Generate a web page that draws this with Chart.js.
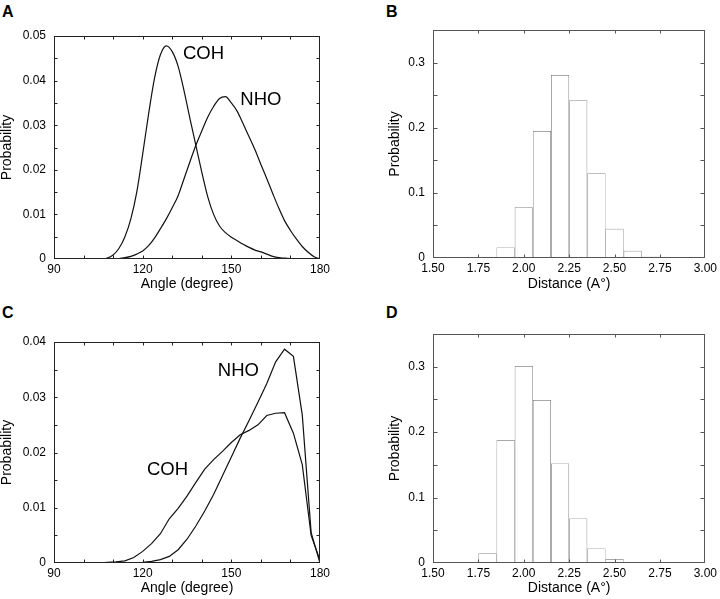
<!DOCTYPE html>
<html><head><meta charset="utf-8">
<script src="https://cdn.jsdelivr.net/npm/chart.js@4/dist/chart.umd.min.js"></script>
<style>
html,body{margin:0;padding:0;background:#fff;width:720px;height:599px;overflow:hidden;}
.p{position:absolute;}
.lt{position:absolute;font:bold 16px 'Liberation Sans',Arial,sans-serif;line-height:16px;color:#000;}
</style></head><body>
<div class="lt" style="left:2px;top:4px">A</div>
<div class="lt" style="left:386px;top:4px">B</div>
<div class="lt" style="left:2px;top:305px">C</div>
<div class="lt" style="left:386px;top:305px">D</div>
<div class="p" style="left:0;top:0;"><canvas id="cA" width="360" height="300"></canvas></div>
<div class="p" style="left:360px;top:0;"><canvas id="cB" width="360" height="300"></canvas></div>
<div class="p" style="left:0;top:300px;"><canvas id="cC" width="360" height="299"></canvas></div>
<div class="p" style="left:360px;top:300px;"><canvas id="cD" width="360" height="299"></canvas></div>
<script>
// ---------- Panel A data (angle distribution) ----------
const anglesA = [90,100,104,106,108,110,112,114,116,118,120,122,124,126,128,130,132,134,136,138,140,142,144,146,148,150,152,154,156,158,160,162,164,166,168,170,172,174,176,178,180];
const cohA = [0,0,0,0,0.0002,0.0009,0.0024,0.0050,0.0090,0.0150,0.0235,0.0325,0.0405,0.0458,0.0478,0.0465,0.0432,0.0377,0.0315,0.0255,0.0195,0.0140,0.0100,0.0074,0.0059,0.0049,0.0041,0.0033,0.0026,0.0020,0.0016,0.0011,0.0006,0.0003,0.0002,0.0001,0,0,0,0,0];
const nhoA = [0,0,0,0,0,0,0.0001,0.0003,0.0006,0.0011,0.0018,0.0030,0.0047,0.0068,0.0090,0.0115,0.0142,0.0180,0.0218,0.0255,0.0287,0.0318,0.0342,0.0360,0.0364,0.0350,0.0331,0.0303,0.0274,0.0245,0.0212,0.0180,0.0147,0.0115,0.0086,0.0064,0.0045,0.0028,0.0015,0.0005,0];

// ---------- Panel C data ----------
const anglesC = [90,93,96,99,102,105,108,111,114,117,120,123,126,129,132,135,138,141,144,147,150,153,156,159,162,165,168,171,174,177,180];
const cohC = [0,0,0,0,0,0,0.0001,0.0002,0.0004,0.0010,0.0021,0.0035,0.0053,0.0080,0.0099,0.0121,0.0146,0.0170,0.0187,0.0202,0.0218,0.0232,0.0240,0.0250,0.0267,0.0271,0.0272,0.0235,0.0178,0.0050,0.0005];
const nhoC = [0,0,0,0,0,0,0,0,0,0,0.0001,0.0003,0.0006,0.0012,0.0024,0.0043,0.0067,0.0094,0.0124,0.0158,0.0192,0.0226,0.0258,0.0291,0.0325,0.0364,0.0387,0.0374,0.0268,0.0055,0];

// ---------- Panel B / D data (distance histograms, bin centres) ----------
const binsB = [1.9,2.0,2.1,2.2,2.3,2.4,2.5,2.6,2.7];
const probB = [0.016,0.078,0.195,0.281,0.242,0.130,0.045,0.011,0.002];
const binsD = [1.8,1.9,2.0,2.1,2.2,2.3,2.4,2.5,2.6];
const probD = [0.015,0.188,0.301,0.249,0.152,0.068,0.022,0.006,0.0015];

// ---------- Tick values / labels ----------
const angleTicks = [90,120,150,180];
const angleTickLabels = ['90','120','150','180'];
const angleMarks = [100,110,120,130,140,150,160,170];
const probTicksA = [0,0.01,0.02,0.03,0.04,0.05];
const probTickLabelsA = ['0','0.01','0.02','0.03','0.04','0.05'];
const probMarksA = [0.005,0.01,0.015,0.02,0.025,0.03,0.035,0.04,0.045];
const probTicksC = [0,0.01,0.02,0.03,0.04];
const probTickLabelsC = ['0','0.01','0.02','0.03','0.04'];
const probMarksC = [0.005,0.01,0.015,0.02,0.025,0.03,0.035];
const distTicks = [1.5,1.75,2.0,2.25,2.5,2.75,3.0];
const distTickLabels = ['1.50','1.75','2.00','2.25','2.50','2.75','3.00'];
const distMarks = [1.75,2.0,2.25,2.5,2.75];
const histTicks = [0,0.1,0.2,0.3];
const histTickLabels = ['0','0.1','0.2','0.3'];
const histMarks = [0.05,0.1,0.15,0.2,0.25,0.3];

const FONT = "'Liberation Sans', Arial, Helvetica, sans-serif";

const framePlugin = {
  id: 'frame',
  afterDatasetsDraw(chart, args, o) {
    const {ctx, chartArea: a, scales: {x, y}} = chart;
    ctx.save();
    ctx.strokeStyle = o.color;
    ctx.lineWidth = 1;
    const L = Math.round(a.left) + 0.5, R = Math.round(a.right) - 0.5;
    const T = Math.round(a.top) + 0.5, B = Math.round(a.bottom) - 0.5;
    ctx.beginPath();
    o.xMarks.forEach(v => {
      const px = Math.round(x.getPixelForValue(v)) + 0.5;
      ctx.moveTo(px, B); ctx.lineTo(px, B - o.xLen);
      ctx.moveTo(px, T); ctx.lineTo(px, T + o.xLen);
    });
    o.yMarks.forEach(v => {
      const py = Math.round(y.getPixelForValue(v)) + 0.5;
      ctx.moveTo(L, py); ctx.lineTo(L + o.yLen, py);
      ctx.moveTo(R, py); ctx.lineTo(R - o.yLen, py);
    });
    ctx.stroke();
    ctx.strokeRect(L, T, R - L, B - T);
    ctx.fillStyle = '#000';
    ctx.font = '18.5px ' + FONT;
    ctx.textAlign = 'center';
    ctx.textBaseline = 'middle';
    (o.labels || []).forEach(l => {
      ctx.fillText(l.text, x.getPixelForValue(l.x), y.getPixelForValue(l.y));
    });
    ctx.restore();
  }
};

function axes(cfg) {
  return {
    x: {
      type: 'linear', min: cfg.xMin, max: cfg.xMax, offset: false,
      grid: {display: false, drawTicks: false, tickLength: 0},
      border: {display: false},
      afterBuildTicks: s => { s.ticks = cfg.xTicks.map(v => ({value: v})); },
      afterFit: s => { s.height = cfg.xH; },
      ticks: {
        autoSkip: false, maxRotation: 0, padding: 3, color: '#000',
        font: {family: FONT, size: 12},
        callback: (v, i) => cfg.xLabels[i]
      },
      title: {display: true, text: cfg.xTitle, color: '#000',
        font: {family: FONT, size: 14, lineHeight: 1},
        padding: {top: 0, bottom: cfg.xTitlePad}}
    },
    y: {
      type: 'linear', min: cfg.yMin, max: cfg.yMax,
      grid: {display: false, drawTicks: false, tickLength: 0},
      border: {display: false},
      afterBuildTicks: s => { s.ticks = cfg.yTicks.map(v => ({value: v})); },
      afterFit: s => { s.width = cfg.yW; },
      ticks: {
        autoSkip: false, padding: 8, color: '#000',
        font: {family: FONT, size: 12},
        callback: (v, i) => cfg.yLabels[i]
      },
      title: {display: true, text: 'Probability', color: '#000',
        font: {family: FONT, size: 14, lineHeight: 1},
        padding: {top: cfg.yTitlePad, bottom: 0}}
    }
  };
}

function lineChart(id, angles, coh, nho, cfg) {
  const pts = arr => arr.map((v, i) => ({x: angles[i], y: v}));
  const ds = (d) => ({data: pts(d), borderColor: '#111', borderWidth: 1.2, pointRadius: 0,
    fill: false, tension: cfg.tension, cubicInterpolationMode: cfg.cubic ? 'monotone' : 'default'});
  return new Chart(document.getElementById(id), {
    type: 'line',
    data: {datasets: [ds(coh), ds(nho)]},
    options: {
      responsive: false, animation: false,
      layout: {padding: cfg.pad},
      plugins: {legend: {display: false}, tooltip: {enabled: false},
        frame: {color: '#222', xMarks: angleMarks, yMarks: cfg.yMarks, xLen: 3, yLen: 3, labels: cfg.labels}},
      scales: axes(cfg)
    },
    plugins: [framePlugin]
  });
}

function histChart(id, bins, probs, cfg) {
  return new Chart(document.getElementById(id), {
    type: 'bar',
    data: {datasets: [{
      data: bins.map((b, i) => ({x: b, y: probs[i]})),
      backgroundColor: 'rgba(255,255,255,0)', borderColor: '#555', borderWidth: 0.5,
      borderSkipped: false, inflateAmount: 0, barPercentage: 1, categoryPercentage: 1
    }]},
    options: {
      responsive: false, animation: false,
      layout: {padding: cfg.pad},
      plugins: {legend: {display: false}, tooltip: {enabled: false},
        frame: {color: '#555', xMarks: distMarks, yMarks: histMarks, xLen: 3, yLen: 4}},
      scales: axes(cfg)
    },
    plugins: [framePlugin]
  });
}

lineChart('cA', anglesA, cohA, nhoA, {
  xMin: 90, xMax: 180, xTicks: angleTicks, xLabels: angleTickLabels, xTitle: 'Angle (degree)',
  yMin: 0, yMax: 0.05, yTicks: probTicksA, yLabels: probTickLabelsA, yMarks: probMarksA,
  xH: 41, yW: 54, xTitlePad: 9, yTitlePad: 0, pad: {left: 0, top: 36, right: 40, bottom: 0},
  tension: 0.3, cubic: true,
  labels: [{text: 'COH', x: 140.6, y: 0.046}, {text: 'NHO', x: 160, y: 0.0357}]
});
lineChart('cC', anglesC, cohC, nhoC, {
  xMin: 90, xMax: 180, xTicks: angleTicks, xLabels: angleTickLabels, xTitle: 'Angle (degree)',
  yMin: 0, yMax: 0.04, yTicks: probTicksC, yLabels: probTickLabelsC, yMarks: probMarksC,
  xH: 36, yW: 54, xTitlePad: 4, yTitlePad: 0, pad: {left: 0, top: 42, right: 40, bottom: 0},
  tension: 0, cubic: false,
  labels: [{text: 'NHO', x: 152.4, y: 0.0347}, {text: 'COH', x: 128.4, y: 0.0168}]
});
histChart('cB', binsB, probB, {
  xMin: 1.5, xMax: 3.0, xTicks: distTicks, xLabels: distTickLabels, xTitle: 'Distance (A°)',
  yMin: 0, yMax: 0.35, yTicks: histTicks, yLabels: histTickLabels,
  xH: 42, yW: 73, xTitlePad: 8.5, yTitlePad: 28, pad: {left: 0, top: 30, right: 13, bottom: 0}
});
histChart('cD', binsD, probD, {
  xMin: 1.5, xMax: 3.0, xTicks: distTicks, xLabels: distTickLabels, xTitle: 'Distance (A°)',
  yMin: 0, yMax: 0.35, yTicks: histTicks, yLabels: histTickLabels,
  xH: 36, yW: 73, xTitlePad: 3.5, yTitlePad: 28, pad: {left: 0, top: 34, right: 13, bottom: 0}
});
</script>
</body></html>
